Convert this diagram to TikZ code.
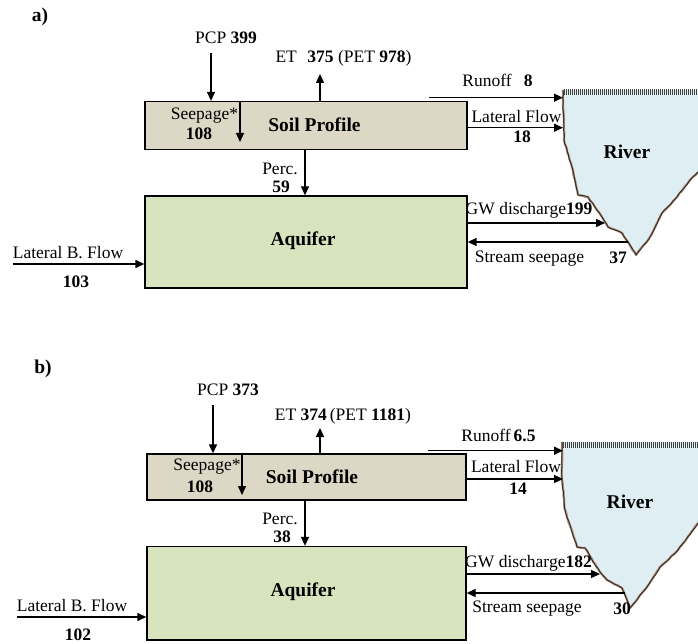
\documentclass[tikz,border=0pt]{standalone}
\usepackage{fontspec}
\setmainfont{Liberation Serif}
\usetikzlibrary{arrows.meta,decorations.pathmorphing}

\definecolor{soilfill}{RGB}{221,215,197}
\definecolor{aquifill}{RGB}{215,228,189}
\definecolor{riverfill}{RGB}{222,238,242}
\definecolor{bankline}{RGB}{60,42,32}
\definecolor{bankshade}{RGB}{175,150,135}

\begin{document}
\begin{tikzpicture}[x=1pt,y=-1pt,
  txt/.style={font=\fontsize{17.5}{20}\selectfont, inner sep=0pt},
  big/.style={font=\fontsize{19.5}{22}\selectfont\bfseries, inner sep=0pt},
  num/.style={font=\fontsize{17.5}{20}\selectfont\bfseries, inner sep=0pt},
  flow/.style={line width=1.3pt, -{Triangle[length=9pt,width=8pt]}},
  soilbox/.style={draw, line width=1.3pt, fill=soilfill, inner sep=0pt},
  aquibox/.style={draw, line width=1.3pt, fill=aquifill, inner sep=0pt},
  banksh/.style={draw=bankshade, line width=2.2pt, line join=round,
    decorate, decoration={random steps, segment length=4pt, amplitude=0.45pt}},
  bank/.style={draw=bankline, line width=1pt, line join=round,
    decorate, decoration={random steps, segment length=4pt, amplitude=0.45pt}},
  surface/.style={draw=black!75, line width=6pt, dash pattern=on 1.1pt off 0.9pt},
]
\pgfmathsetseed{11}
\useasboundingbox[fill=white] (0,0) rectangle (698,644);

% ---------------- panel a ----------------
\node[big] (tagA) at (40,17) {a)};

% river cross-section
\fill[riverfill] (563,90) -- (564,140) -- (572,167) -- (578,195) -- (588,197)
  -- (602,217) -- (608,227) -- (622,233) -- (636,255) -- (650,237) -- (662,213)
  -- (677,197) -- (690,180) -- (698,172) -- (698,90) -- cycle;
\path[banksh] (563,90) -- (564,140) -- (572,167) -- (578,195) -- (588,197)
  -- (602,217) -- (608,227) -- (622,233) -- (636,255) -- (650,237) -- (662,213)
  -- (677,197) -- (690,180) -- (698,172);
\path[bank] (563,90) -- (564,140) -- (572,167) -- (578,195) -- (588,197)
  -- (602,217) -- (608,227) -- (622,233) -- (636,255) -- (650,237) -- (662,213)
  -- (677,197) -- (690,180) -- (698,172);
\draw[surface] (564,92.5) -- (698,92.5);
\node[big] (riverA) at (627,152) {River};

% storages
\node[soilbox, minimum width=322pt, minimum height=48pt] (soilA) at (306,125.5) {};
\node[big] (soilAtxt) at (314.5,125) {Soil Profile};
\node[aquibox, minimum width=322pt, minimum height=92pt] (aquA) at (306,242) {};
\node[big] (aquAtxt) at (303,241) {Aquifer};

% labels
\node[txt] (pcpA) at (226,38) {PCP \textbf{399}};
\node[txt] (etA) at (343.5,58) {ET\hspace{0.6em}\textbf{375} (PET \textbf{978})};
\node[txt] (seepA) at (204.5,116) {Seepage*};
\node[num] (seepAv) at (199,134) {108};
\node[txt] (percA) at (280,168.5) {Perc.};
\node[num] (percAv) at (281,186.5) {59};
\node[txt] (lbfA) at (68,253) {Lateral B. Flow};
\node[num] (lbfAv) at (76,282) {103};
\node[txt] (roA) at (497.5,80) {Runoff\hspace{0.7em}\textbf{8}};
\node[txt] (lfA) at (516.5,117) {Lateral Flow};
\node[num] (lfAv) at (522,137) {18};
\node[txt] (gwA) at (529,210) {GW discharge\textbf{199}};
\node[txt] (ssA) at (529.5,259) {Stream seepage};
\node[num] (ssAv) at (618,258) {37};

% end points of the flows
\coordinate (pcpAs) at (211,53);
\coordinate (etAe) at (320,74);
\coordinate (seepAx) at (240,142);
\coordinate (percAx) at (305,0);
\coordinate (lbfAs) at (13,264);
\coordinate (roAs) at (429,97.7);
\coordinate (roAe) at (563,97.7);
\coordinate (lfAe) at (563,127.7);
\coordinate (gwAe) at (605,223);
\coordinate (ssAs) at (628,242);

% flows
\draw[flow] (pcpAs) -- (pcpAs |- soilA.north);
\draw[flow] (etAe |- soilA.north) -- (etAe);
\draw[flow] (seepAx |- soilA.north) -- (seepAx);
\draw[flow] (percAx |- soilA.south) -- (percAx |- aquA.north);
\draw[flow] (lbfAs) -- (lbfAs -| aquA.west);
\draw[flow] (roAs) -- (roAe);
\draw[flow] (lfAe -| soilA.east) -- (lfAe);
\draw[flow] (gwAe -| aquA.east) -- (gwAe);
\draw[flow] (ssAs) -- (ssAs -| aquA.east);

% ---------------- panel b ----------------
\node[big] (tagB) at (43,369) {b)};

% river cross-section
\fill[riverfill] (562,442) -- (562,480) -- (565,510) -- (577,547) -- (585,548)
  -- (600,572) -- (607,580) -- (622,588) -- (630,608) -- (647,587) -- (660,567)
  -- (678,550) -- (693,530) -- (698,523) -- (698,442) -- cycle;
\path[banksh] (562,442) -- (562,480) -- (565,510) -- (577,547) -- (585,548)
  -- (600,572) -- (607,580) -- (622,588) -- (630,608) -- (647,587) -- (660,567)
  -- (678,550) -- (693,530) -- (698,523);
\path[bank] (562,442) -- (562,480) -- (565,510) -- (577,547) -- (585,548)
  -- (600,572) -- (607,580) -- (622,588) -- (630,608) -- (647,587) -- (660,567)
  -- (678,550) -- (693,530) -- (698,523);
\draw[surface] (563,445) -- (698,445);
\node[big] (riverB) at (630,502) {River};

% storages
\node[soilbox, minimum width=319pt, minimum height=46pt] (soilB) at (306.5,477) {};
\node[big] (soilBtxt) at (312,477) {Soil Profile};
\node[aquibox, minimum width=319pt, minimum height=93.5pt] (aquB) at (306.5,593.25) {};
\node[big] (aquBtxt) at (303,592) {Aquifer};

% labels
\node[txt] (pcpB) at (228,390) {PCP \textbf{373}};
\node[txt] (etB) at (343,416) {ET \textbf{374}\,(PET \textbf{1181})};
\node[txt] (seepB) at (207,467) {Seepage*};
\node[num] (seepBv) at (200,487) {108};
\node[txt] (percB) at (280,518.5) {Perc.};
\node[num] (percBv) at (282,537) {38};
\node[txt] (lbfB) at (72,606) {Lateral B. Flow};
\node[num] (lbfBv) at (78,635) {102};
\node[txt] (roB) at (498.5,435) {Runoff\,\textbf{6.5}};
\node[txt] (lfB) at (516,467) {Lateral Flow};
\node[num] (lfBv) at (518,489) {14};
\node[txt] (gwB) at (528.5,563) {GW discharge\textbf{182}};
\node[txt] (ssB) at (527,609) {Stream seepage};
\node[num] (ssBv) at (622,609) {30};

% end points of the flows
\coordinate (pcpBs) at (213,405);
\coordinate (etBe) at (320,428);
\coordinate (seepBx) at (242,495);
\coordinate (percBx) at (305,0);
\coordinate (lbfBs) at (17,617);
\coordinate (roBs) at (428,450.7);
\coordinate (roBe) at (563,450.7);
\coordinate (lfBe) at (563,479);
\coordinate (gwBe) at (600,574);
\coordinate (ssBs) at (625,593);

% flows
\draw[flow] (pcpBs) -- (pcpBs |- soilB.north);
\draw[flow] (etBe |- soilB.north) -- (etBe);
\draw[flow] (seepBx |- soilB.north) -- (seepBx);
\draw[flow] (percBx |- soilB.south) -- (percBx |- aquB.north);
\draw[flow] (lbfBs) -- (lbfBs -| aquB.west);
\draw[flow] (roBs) -- (roBe);
\draw[flow] (lfBe -| soilB.east) -- (lfBe);
\draw[flow] (gwBe -| aquB.east) -- (gwBe);
\draw[flow] (ssBs) -- (ssBs -| aquB.east);
\end{tikzpicture}
\end{document}
